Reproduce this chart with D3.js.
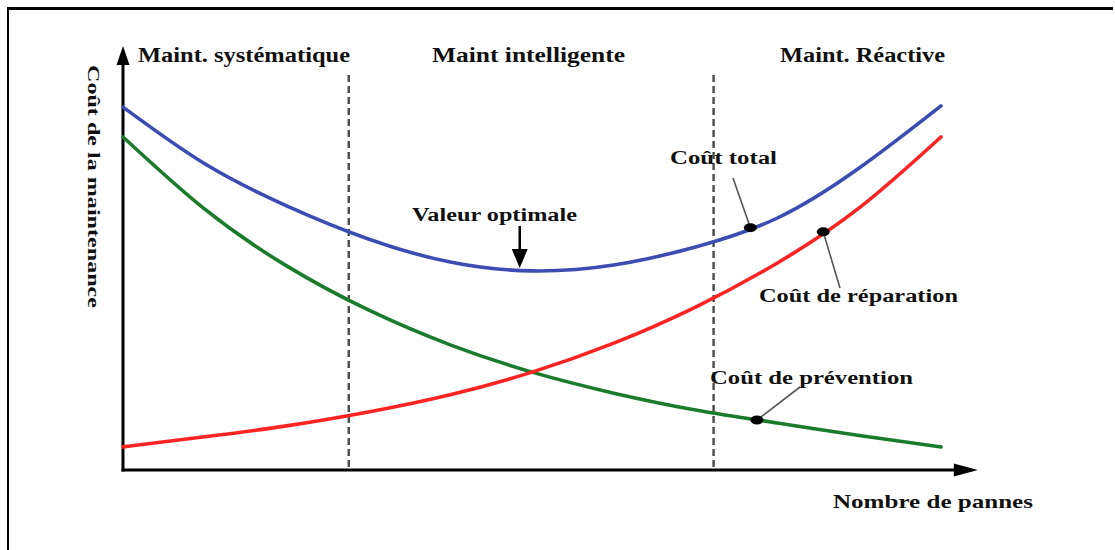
<!DOCTYPE html>
<html>
<head>
<meta charset="utf-8">
<script src="https://cdn.jsdelivr.net/npm/d3@7"></script>
<style>
  html, body { margin: 0; padding: 0; background: #fff; }
  svg { display: block; }
  text { font-family: "Liberation Serif", "DejaVu Serif", serif; font-weight: bold; fill: #111; }
</style>
</head>
<body>
<svg id="chart" width="1115" height="550"></svg>
<script>
// ---- Data ----
const failures = [0, 10, 20, 30, 40, 50, 60, 70, 80, 90, 100];
const totalCost = [86.4, 72.9, 62.9, 55.0, 49.5, 47.4, 48.8, 53.1, 60.0, 71.9, 86.7];
const preventionCost = [79.3, 62.1, 48.6, 38.1, 29.8, 23.3, 18.3, 14.3, 11.2, 8.2, 5.5];
const repairCost = [5.5, 7.9, 10.5, 13.8, 17.9, 23.3, 30.2, 38.8, 49.3, 62.4, 79.3];
const zoneBounds = [27.6, 72.2];
const zoneLabels = ["Maint. systématique", "Maint intelligente", "Maint. Réactive"];
const optimum = { x: 48.5, label: "Valeur optimale" };
const seriesNames = ["Coût total", "Coût de réparation", "Coût de prévention"];
const dotPoints = [
  { x: 76.7, y: 57.7 },  // total
  { x: 85.6, y: 56.7 },  // repair
  { x: 77.5, y: 11.9 }   // prevention
];
const axisTitleX = "Nombre de pannes";
const axisTitleY = "Coût de la maintenance";

// ---- Layout ----
const svg = d3.select("#chart");
const x = d3.scaleLinear().domain([0, 100]).range([123, 941]);
const y = d3.scaleLinear().domain([0, 100]).range([470, 50]);
const colors = { total: "#3b4db3", repair: "#ff2424", prev: "#1b7b2c" };

// frame
svg.append("line").attr("x1", 7).attr("x2", 1113).attr("y1", 8.5).attr("y2", 8.5)
  .attr("stroke", "#000").attr("stroke-width", 3);
svg.append("line").attr("x1", 8).attr("x2", 8).attr("y1", 8).attr("y2", 550)
  .attr("stroke", "#000").attr("stroke-width", 2);

// zone dashed separators
svg.selectAll(".zone").data(zoneBounds).join("line")
  .attr("x1", d => x(d)).attr("x2", d => x(d))
  .attr("y1", 75).attr("y2", y(0))
  .attr("stroke", "#4a4a4a").attr("stroke-width", 2.4).attr("stroke-dasharray", "7,4");

// axes
const x0 = x(0), y0 = y(0);
svg.append("line").attr("x1", x0).attr("x2", x0).attr("y1", y0 + 1.5).attr("y2", 62)
  .attr("stroke", "#000").attr("stroke-width", 3);
svg.append("path").attr("d", `M${x0},46 L${x0 - 6.5},65 L${x0 + 6.5},65 Z`).attr("fill", "#000");
const xEnd = x(104.5);
svg.append("line").attr("x1", x0 - 1.5).attr("x2", xEnd - 18).attr("y1", y0).attr("y2", y0)
  .attr("stroke", "#000").attr("stroke-width", 3);
svg.append("path").attr("d", `M${xEnd},${y0} L${xEnd - 24},${y0 - 6.5} L${xEnd - 24},${y0 + 6.5} Z`).attr("fill", "#000");

// curves
const line = d3.line().x((d, i) => x(failures[i])).y(d => y(d)).curve(d3.curveNatural);
[[preventionCost, colors.prev], [repairCost, colors.repair], [totalCost, colors.total]].forEach(([s, c]) => {
  svg.append("path").attr("d", line(s)).attr("fill", "none")
    .attr("stroke", c).attr("stroke-width", 3.6).attr("stroke-linecap", "round");
});

// helper for fitted text
function label(txt, px, py, width, size) {
  return svg.append("text").attr("x", px).attr("y", py)
    .attr("font-size", size).attr("textLength", width).attr("lengthAdjust", "spacingAndGlyphs")
    .text(txt);
}

// zone labels
label(zoneLabels[0], 138, 62, 212, 20);
label(zoneLabels[1], 432, 62, 193, 20);
label(zoneLabels[2], 780, 62, 165, 20);

// optimum annotation
label(optimum.label, 412, 221, 165, 18);
const ox = x(optimum.x);
svg.append("line").attr("x1", ox).attr("x2", ox).attr("y1", 226).attr("y2", 252)
  .attr("stroke", "#000").attr("stroke-width", 2.5);
svg.append("path").attr("d", `M${ox},268 L${ox - 8},249 L${ox + 8},249 Z`).attr("fill", "#000");

// leader lines + dots
const leaderEnds = [[733, 178], [840, 288], [800, 387]];
dotPoints.forEach((p, i) => {
  svg.append("line").attr("x1", x(p.x)).attr("y1", y(p.y))
    .attr("x2", leaderEnds[i][0]).attr("y2", leaderEnds[i][1])
    .attr("stroke", "#555").attr("stroke-width", 1.6);
});
svg.selectAll(".dot").data(dotPoints).join("ellipse")
  .attr("cx", d => x(d.x)).attr("cy", d => y(d.y)).attr("rx", 6.5).attr("ry", 4.5).attr("fill", "#000");

// series labels
label(seriesNames[0], 670, 164, 107, 18);
label(seriesNames[1], 759, 302, 199, 18);
label(seriesNames[2], 710, 384, 203, 18);

// axis titles
label(axisTitleX, 833, 508, 200, 19);
svg.append("text").attr("transform", "translate(88,65) rotate(90)")
  .attr("font-size", 17).attr("textLength", 243).attr("lengthAdjust", "spacingAndGlyphs")
  .text(axisTitleY);
</script>
</body>
</html>
